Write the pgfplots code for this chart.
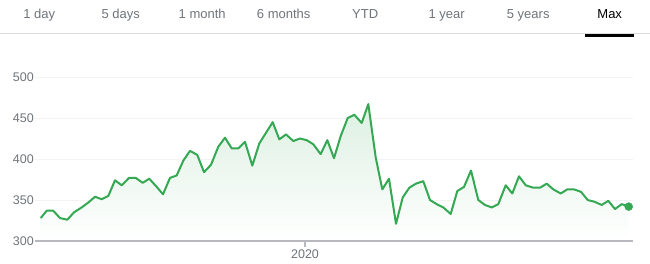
\documentclass[border=0pt]{standalone}
\usepackage{pgfplots}
\usepackage{pgfplotstable}
\pgfplotsset{compat=1.18}
\usepackage{fontspec}
\setmainfont{Liberation Sans}
\definecolor{gline}{HTML}{34A853}
\definecolor{gtext}{HTML}{70757A}
\definecolor{gsep}{HTML}{DADCE0}
\definecolor{gaxis}{HTML}{B8B9BE}
\definecolor{ggrid}{HTML}{F3F3F3}
\definecolor{gfill}{HTML}{DDF0E2}

\pgfplotstableread{
x y
40.7 328
46.7 337
53.3 337
60 328
67.3 326
74 335
81.7 341
88.3 347
95 354
101.7 351
108.3 355
115 374
121.7 368
129 377
135.7 377
142.7 371
149.3 376
156 367
163 357
170 377
176.7 380
183.3 398
190 410
197.3 405
204 384
211 393
218.3 415
225 426
231.7 413
238.3 413
245 421
252.3 392
259.3 419
266 432
272.7 445
279.3 424
286 430
293.3 422
300 425
306.7 423
313.3 418
320.7 406
327.3 423
334 401
340.7 428
347.7 450
354.3 454
361.7 444
368.3 467
375.7 402
382.3 363
389 376
396 321
402.7 353
409.3 365
416 370
423.3 373
430 350
436.7 345
443.3 341
450.7 333
457.3 361
464 366
471 386
478.3 350
485 344
491.7 341
498.3 345
505.7 368
512.3 358
519 379
525.7 368
533.3 365
540 365
546.7 370
553.3 363
560.7 358
567.3 363
574 363
581 360
587.7 350
594.3 348
601.7 344
608.3 349
615 339
621.7 345
628.7 342
}\pricedata

\begin{document}
\begin{tikzpicture}[x=1pt,y=1pt]
\useasboundingbox (0,0) rectangle (650,264);
\fill[white] (0,0) rectangle (650,264);
\foreach \lab [count=\k from 0] in {1 day,5 days,1 month,6 months,YTD,1 year,5 years} {
  \node[anchor=base, inner sep=0pt, text=gtext, font=\fontsize{13}{15}\selectfont] at ({39.2+81.5*\k}, 245.4) {\lab};
}
\node[anchor=base, inner sep=0pt, text=black, font=\fontsize{13}{15}\selectfont] at (609.7, 245.4) {Max};
\draw[gsep, line width=1pt] (0,230) -- (650,230);
\fill[black] (585,227) rectangle (634,230.3);
\begin{axis}[
  at={(35,28)}, anchor=south west,
  scale only axis, width=598pt, height=164pt,
  xmin=35, xmax=633, ymin=300, ymax=500,
  clip=false,
  axis x line*=bottom, axis y line*=left,
  x axis line style={gaxis, line width=2pt, -},
  y axis line style={draw=none},
  ymajorgrids, grid style={ggrid, line width=1pt},
  ytick={300,350,400,450,500},
  xtick={305}, xticklabels={2020},
  tick align=outside, major tick length=6pt,
  xtick style={gaxis, line width=1.3pt},
  ytick style={draw=none},
  tick label style={font=\fontsize{12.5}{15}\selectfont, text=gtext},
  /pgf/number format/assume math mode=true,
  yticklabel style={anchor=east, inner sep=0pt, xshift=5pt},
  xticklabel style={anchor=north, inner sep=0pt, yshift=-3pt},
]
\addplot[draw=none, shade, top color=gfill, bottom color=white, forget plot] table[x=x,y=y] {\pricedata} \closedcycle;
\addplot[gaxis, line width=2pt, forget plot] coordinates {(35,300) (633,300)};
\addplot[gline, line width=2pt, line join=round, mark=none] table[x=x,y=y] {\pricedata};
\addplot[only marks, mark=*, mark size=4pt, gline] coordinates {(628.7,342)};
\end{axis}
\end{tikzpicture}
\end{document}
